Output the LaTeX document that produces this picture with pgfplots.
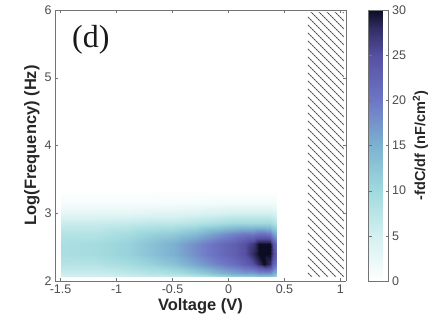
\documentclass[border=0pt]{standalone}
\usepackage{fontspec}
\setmainfont{Liberation Sans}
\newfontfamily\seriffont{Liberation Serif}
\usepackage{pgfplots}
\pgfplotsset{compat=1.18}
\usetikzlibrary{patterns}
\pgfdeclarepatternformonly{dottedhatch}{\pgfqpoint{-1pt}{-1pt}}{\pgfqpoint{9pt}{9pt}}{\pgfqpoint{8pt}{8pt}}{%
  \pgfsetlinewidth{1pt}%
  \pgfsetdash{{2.2pt}{0.63pt}}{0pt}%
  \pgfpathmoveto{\pgfqpoint{0pt}{8pt}}%
  \pgfpathlineto{\pgfqpoint{8pt}{0pt}}%
  \pgfusepath{stroke}}
\pgfplotsset{/pgf/number format/assume math mode=true}
\begin{document}
\begin{tikzpicture}[x=1pt,y=1pt]
\path[use as bounding box] (0,0) rectangle (433,333);
\begin{axis}[
  at={(55pt,52pt)}, anchor=south west,
  scale only axis, width=291pt, height=271pt,
  xmin=-1.55, xmax=1.05, ymin=2, ymax=6,
  view={0}{90},
  xtick={-1.5,-1,-0.5,0,0.5,1},
  xticklabels={-1.5,-1,-0.5,0,0.5,1},
  ytick={2,3,4,5,6},
  tick align=inside, major tick length=3pt,
  axis line style={black!55},
  tick style={black!55},
  ticklabel style={font=\fontsize{12.5}{14}\selectfont, text=black!70},
  xlabel={\textbf{Voltage (V)}},
  ylabel={\textbf{Log(Frequency) (Hz)}},
  label style={font=\fontsize{16.5}{19}\selectfont, text=black!85},
  xlabel style={yshift=2pt},
  ylabel style={yshift=-2pt},
  colorbar,
  point meta min=0, point meta max=30,
  colormap={fdc}{rgb255(0cm)=(255,255,255); rgb255(5cm)=(212,240,240); rgb255(10cm)=(160,218,222); rgb255(15cm)=(125,178,208); rgb255(20cm)=(110,118,198); rgb255(25cm)=(86,80,162); rgb255(28cm)=(50,45,100); rgb255(30cm)=(12,12,35)},
  colorbar style={
    at={(parent axis.north east)}, anchor=north west, xshift=14pt,
    width=20pt,
    ytick={0,5,10,15,20,25,30},
    major tick length=3pt,
    axis line style={black!55}, tick style={black!55},
    yticklabel style={font=\fontsize{12.5}{14}\selectfont, text=black!70},
    ylabel={\textbf{-fdC/df (nF/cm\textsuperscript{2})}},
    ylabel style={font=\fontsize{14.5}{17}\selectfont, text=black!85},
  },
]
\addplot3[surf, shader=interp, mesh/ordering=y varies, mesh/rows=10, mesh/cols=15] table[meta=z] {
x y z
-1.5 2.06 5
-1.5 2.12 6
-1.5 2.25 8
-1.5 2.40 9
-1.5 2.55 9
-1.5 2.70 8
-1.5 2.85 6
-1.5 3.00 3
-1.5 3.15 1
-1.5 3.35 0
-1.2 2.06 5
-1.2 2.12 6
-1.2 2.25 8
-1.2 2.40 9.5
-1.2 2.55 9.5
-1.2 2.70 8
-1.2 2.85 6
-1.2 3.00 3
-1.2 3.15 1
-1.2 3.35 0
-0.9 2.06 5.5
-0.9 2.12 7
-0.9 2.25 9.5
-0.9 2.40 11
-0.9 2.55 11
-0.9 2.70 9.5
-0.9 2.85 6.5
-0.9 3.00 3
-0.9 3.15 1
-0.9 3.35 0
-0.7 2.06 6
-0.7 2.12 8
-0.7 2.25 11
-0.7 2.40 13
-0.7 2.55 13
-0.7 2.70 11
-0.7 2.85 7
-0.7 3.00 3.5
-0.7 3.15 1
-0.7 3.35 0
-0.5 2.06 6
-0.5 2.12 9
-0.5 2.25 13
-0.5 2.40 15
-0.5 2.55 15
-0.5 2.70 12
-0.5 2.85 7
-0.5 3.00 3.5
-0.5 3.15 1.2
-0.5 3.35 0
-0.3 2.06 7
-0.3 2.12 11
-0.3 2.25 16
-0.3 2.40 18
-0.3 2.55 18
-0.3 2.70 14
-0.3 2.85 8
-0.3 3.00 4
-0.3 3.15 1.2
-0.3 3.35 0
-0.1 2.06 9
-0.1 2.12 14
-0.1 2.25 19
-0.1 2.40 21
-0.1 2.55 21
-0.1 2.70 17
-0.1 2.85 9
-0.1 3.00 4.5
-0.1 3.15 1.5
-0.1 3.35 0
0.05 2.06 11
0.05 2.12 16
0.05 2.25 21
0.05 2.40 23
0.05 2.55 23
0.05 2.70 19
0.05 2.85 10
0.05 3.00 5
0.05 3.15 1.5
0.05 3.35 0
0.15 2.06 11
0.15 2.12 17
0.15 2.25 23
0.15 2.40 25
0.15 2.55 25
0.15 2.70 20
0.15 2.85 10
0.15 3.00 5
0.15 3.15 1.5
0.15 3.35 0
0.22 2.06 11
0.22 2.12 17
0.22 2.25 25
0.22 2.40 28
0.22 2.55 27
0.22 2.70 20
0.22 2.85 10
0.22 3.00 5
0.22 3.15 1.5
0.22 3.35 0
0.27 2.06 12
0.27 2.12 18
0.27 2.25 28
0.27 2.40 33
0.27 2.55 32
0.27 2.70 21
0.27 2.85 10
0.27 3.00 5
0.27 3.15 1.5
0.27 3.35 0
0.32 2.06 12
0.32 2.12 18
0.32 2.25 30
0.32 2.40 35
0.32 2.55 34
0.32 2.70 21
0.32 2.85 10
0.32 3.00 5
0.32 3.15 1.5
0.32 3.35 0
0.37 2.06 12
0.37 2.12 18
0.37 2.25 28
0.37 2.40 33
0.37 2.55 31
0.37 2.70 20
0.37 2.85 10
0.37 3.00 5
0.37 3.15 1.5
0.37 3.35 0
0.40 2.06 11
0.40 2.12 16
0.40 2.25 23
0.40 2.40 26
0.40 2.55 25
0.40 2.70 17
0.40 2.85 9
0.40 3.00 4.5
0.40 3.15 1.5
0.40 3.35 0
0.43 2.06 10
0.43 2.12 14
0.43 2.25 20
0.43 2.40 22
0.43 2.55 21
0.43 2.70 15
0.43 2.85 8
0.43 3.00 4
0.43 3.15 1.2
0.43 3.35 0
};
\addplot[draw=none, pattern=dottedhatch, pattern color=black!70] coordinates {(0.71,2.06) (1.03,2.06) (1.03,5.96) (0.71,5.96)} -- cycle;
\node[font=\seriffont\fontsize{32}{36}\selectfont, text=black!90] at (axis cs:-1.23,5.56) {(d)};
\end{axis}
\end{tikzpicture}
\end{document}
